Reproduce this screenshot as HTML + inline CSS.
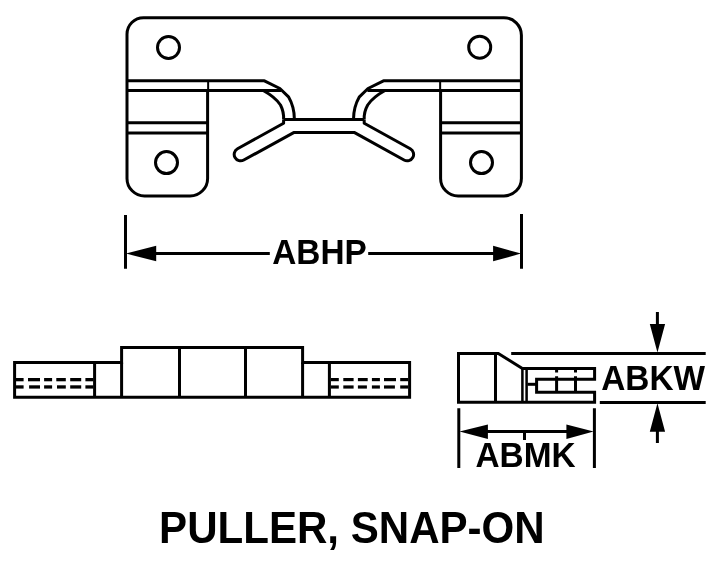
<!DOCTYPE html>
<html><head><meta charset="utf-8">
<style>
html,body{margin:0;padding:0;background:#fff;}
body{width:721px;height:571px;overflow:hidden;position:relative;}
svg{will-change:transform;position:absolute;left:0;top:0;display:block;}
text{font-family:"Liberation Sans",sans-serif;font-weight:bold;fill:#000;}
</style></head><body>
<svg width="721" height="571" viewBox="0 0 721 571">
<rect width="721" height="571" fill="#fff"/>
<g fill="none" stroke="#000" stroke-width="3" stroke-linecap="butt" stroke-linejoin="round">
<!-- TOP VIEW outline -->
<path d="M207.6,90.4 V178.4 A17.5,17.5 0 0 1 190.1,195.9 H144.5 A17.5,17.5 0 0 1 127,178.4 V34.2 A16.5,16.5 0 0 1 143.5,17.7 H503.9 A17.5,17.5 0 0 1 521.4,35.2 V178.4 A17.5,17.5 0 0 1 503.9,195.9 H458.1 A17.5,17.5 0 0 1 440.6,178.4 V90.4"/>
<path d="M208.15,80.8 V90.4 M440.15,80.8 V90.4" stroke-width="2"/>
<!-- left lines -->
<path d="M127,80.8 H264.4 L279.9,88.5 L288.5,96.8 C291.5,102 294.4,110 294.4,119.4"/>
<path d="M127,90.4 H281"/>
<path d="M263.6,90.8 Q275,97 280.5,105 Q284,112 283.6,119.4"/>
<path d="M127,122.7 H207.7 M127,133 H207.7"/>
<!-- right lines -->
<path d="M521.4,80.8 H383.5 L368,88.5 L359.4,96.8 C356.4,102 353.5,110 353.5,119.4"/>
<path d="M521.4,90.4 H367.4"/>
<path d="M384.6,90.8 Q373.2,97 367.7,105 Q363.8,112 364.2,119.4"/>
<path d="M521.4,122.7 H440.6 M521.4,133 H440.6"/>
<!-- centre bar and fingers -->
<path d="M283.6,119.4 H364.2"/>
<path d="M283.6,119.4 V123.3 L237.52,148.76 A6.45,6.45 0 0 0 243.78,160.04 L293.7,132.6 H354.6 L404.02,160.04 A6.45,6.45 0 0 0 410.28,148.76 L364.2,123.3 V119.4"/>
<!-- holes -->
<circle cx="168.5" cy="47.5" r="11"/>
<circle cx="479.7" cy="47.2" r="11"/>
<circle cx="166.5" cy="162.6" r="11"/>
<circle cx="481.5" cy="162.6" r="11"/>
<!-- ABHP dimension -->
<path d="M125.5,215 V268.7 M521.5,214 V268.7"/>
<path d="M150,253.6 H269.8 M368.2,253.6 H500"/>
</g>
<path d="M126,253.6 L156.2,245.8 V261.3 Z M521,253.6 L493.1,245.8 V261.3 Z" fill="#000"/>
<text transform="translate(272.2,264) scale(0.9625,1)" font-size="34.7">ABHP</text>

<!-- FRONT VIEW -->
<g fill="none" stroke="#000" stroke-width="3" stroke-linecap="square" stroke-linejoin="miter">
<path d="M14.6,362.5 V397.3 H409.6 V362.5 H302.6 V347.6 H121.6 V362.5 Z"/>
<path stroke-linecap="butt" d="M121.6,362.5 V397.3 M302.6,362.5 V397.3 M94.6,362.5 V397.3 M329.4,362.5 V397.3 M179.5,347.6 V397.3 M245.5,347.6 V397.3"/>
</g>
<g fill="#000">
<!-- left dashes -->
<rect x="16" y="378" width="7.6" height="3.3"/><rect x="28" y="378" width="12" height="3.3"/><rect x="44.1" y="378" width="8" height="3.3"/><rect x="56.3" y="378" width="9.5" height="3.3"/><rect x="70.2" y="378" width="11" height="3.3"/><rect x="85.4" y="378" width="8" height="3.3"/>
<rect x="16" y="385.3" width="7.6" height="3.3"/><rect x="29.1" y="385.3" width="10.9" height="3.3"/><rect x="44.1" y="385.3" width="8" height="3.3"/><rect x="57" y="385.3" width="8.8" height="3.3"/><rect x="70.2" y="385.3" width="11" height="3.3"/><rect x="85.4" y="385.3" width="8" height="3.3"/>
<!-- right dashes -->
<rect x="330.8" y="378" width="8" height="3.2"/><rect x="343.3" y="378" width="10.3" height="3.2"/><rect x="357.9" y="378" width="9.8" height="3.2"/><rect x="371.9" y="378" width="8" height="3.2"/><rect x="384" y="378" width="12" height="3.2"/><rect x="400.2" y="378" width="8" height="3.2"/>
<rect x="330.8" y="385.4" width="8" height="3.2"/><rect x="343.3" y="385.4" width="10.3" height="3.2"/><rect x="357.9" y="385.4" width="9" height="3.2"/><rect x="371.9" y="385.4" width="8" height="3.2"/><rect x="384" y="385.4" width="10.9" height="3.2"/><rect x="400.2" y="385.4" width="8" height="3.2"/>
</g>

<!-- SIDE VIEW -->
<g fill="none" stroke="#000" stroke-width="3" stroke-linecap="butt" stroke-linejoin="miter">
<path d="M498.3,353.4 H458.5 V402.3 H594.6 V392.3 H536.6 V379.2 H594.6 V368.4 H522.4 Z"/>
<path d="M495.5,353.4 V402.3"/>
<path d="M527.5,384.3 H536.6"/>
<path d="M556.6,376.2 V392 M575.5,376.2 V392"/>
<path d="M556.6,369.5 V372.4 M575.5,369.5 V372.4"/>
<!-- extension lines ABKW -->
<path d="M511.2,353.4 H705.7 M599.8,402.5 H705.7"/>
<!-- ABKW arrows shafts -->
<path d="M657.4,311.9 V330 M657.4,425 V442.9"/>
<!-- ABMK -->
<path d="M458.8,408.3 V467.9 M594.4,408.3 V467.9"/>
<path d="M480,431.5 H575"/>
<path d="M524.5,431.5 V440"/>
</g>
<g fill="none" stroke="#000" stroke-width="2.5">
<path d="M522.4,367.5 V402.2 M526.6,368.4 V402.2"/>
</g>
<path d="M657.45,352.6 L649.8,324.1 H665.1 Z M657.45,403.3 L649.8,431.8 H665.1 Z" fill="#000"/>
<path d="M459.5,431.6 L487.9,424.4 V438.9 Z M593.6,431.6 L566.4,424.4 V438.9 Z" fill="#000"/>
<text transform="translate(601.2,390) scale(0.9625,1)" font-size="34.7">ABKW</text>
<text transform="translate(475.5,467) scale(0.9625,1)" font-size="34.7">ABMK</text>
<text transform="translate(159.1,543) scale(0.965,1)" font-size="43.6">PULLER, SNAP-ON</text>
</svg>
</body></html>
